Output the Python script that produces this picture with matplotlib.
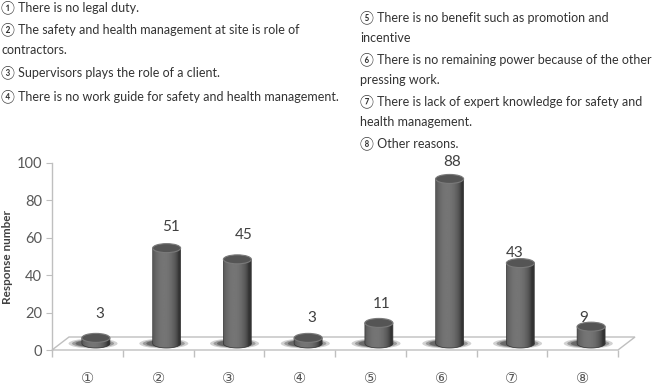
import numpy as np
import matplotlib
matplotlib.use("Agg")
import matplotlib.pyplot as plt
from matplotlib.patches import Ellipse, PathPatch, Polygon
from matplotlib.path import Path

plt.rcParams['font.family'] = ['Lato', 'DejaVu Sans']

# ---- data ----
categories = ['①', '②', '③', '④', '⑤', '⑥', '⑦', '⑧']
values = [3, 51, 45, 3, 11, 88, 43, 9]
y_ticks = [0, 20, 40, 60, 80, 100]
y_label = 'Response number'
notes_left = ['① There is no legal duty.',
              '② The safety and health management at site is role of',
              'contractors.',
              '③ Supervisors plays the role of a client.',
              '④ There is no work guide for safety and health management.']
notes_right = ['⑤ There is no benefit such as promotion and',
               'incentive',
               '⑥ There is no remaining power because of the other',
               'pressing work.',
               '⑦ There is lack of expert knowledge for safety and',
               'health management.',
               '⑧ Other reasons.']

# ---- layout / style ----
W, H = 659, 388
fig = plt.figure(figsize=(W / 100, H / 100), dpi=100)
ax_l, ax_r, ax_b, ax_t = 52, 618, 350, 163
ax = fig.add_axes([ax_l / W, (H - ax_b) / H, (ax_r - ax_l) / W, (ax_b - ax_t) / H])
ax.set_facecolor('none')
n = len(categories)
x = np.arange(n)
xpx = (ax_r - ax_l) / n            # px per x unit
ypx = (ax_b - ax_t) / 100.0        # px per y unit

depth_dx, depth_dy = 17 / xpx, 13 / ypx      # floor depth
bar_dx, bar_dy = depth_dx / 2, depth_dy / 2  # bars sit mid-floor
bar_w = 28 / xpx
ell_h = 9 / ypx
grey_line = '#bfbfbf'
txt_col = '#595959'

# floor
floor = Polygon([(-0.5, 0), (n - 0.5, 0), (n - 0.5 + depth_dx, depth_dy), (-0.5 + depth_dx, depth_dy)],
                closed=True, facecolor='white', edgecolor=grey_line, lw=1.0, zorder=1, clip_on=False)
ax.add_patch(floor)

# gradient for cylinder body
t = np.linspace(-1, 1, 64)
prof = 0.20 + 0.26 * np.clip(1 - ((t + 0.2) / 1.05) ** 2, 0, 1) ** 0.7
grad = np.tile(prof, (2, 1))

# label offsets (pixels) relative to bar top
label_dy = [24, 21, 24, 20, 19, 17, 10, 9]
label_dx = [4, 4, 6, 4, 3, 3, -6, -7]

for i, v in enumerate(values):
    cx = x[i] + bar_dx
    base = bar_dy
    top = base + v
    # shadow
    for sw, sh, a in [(1.75, 1.1, 0.20), (1.5, 0.9, 0.30), (1.25, 0.75, 0.40)]:
        ax.add_patch(Ellipse((cx - 0.04, base), bar_w * sw, ell_h * sh, facecolor='#1e1e1e',
                             edgecolor='none', alpha=a, zorder=2, clip_on=False))
    th = np.linspace(np.pi, 2 * np.pi, 40)
    xs = cx + bar_w / 2 * np.cos(th)
    ys = base + ell_h / 2 * np.sin(th)
    verts = list(zip(xs, ys)) + [(cx + bar_w / 2, top), (cx - bar_w / 2, top), (xs[0], ys[0])]
    codes = [Path.MOVETO] + [Path.LINETO] * (len(verts) - 2) + [Path.CLOSEPOLY]
    clip = PathPatch(Path(verts, codes), transform=ax.transData, facecolor='none')
    im = ax.imshow(grad, cmap='gray', vmin=0, vmax=1, aspect='auto', interpolation='bilinear',
                   extent=[cx - bar_w / 2, cx + bar_w / 2, base - ell_h / 2, top], zorder=3)
    im.set_clip_path(clip)
    ax.add_patch(PathPatch(Path(verts, codes), facecolor='none', edgecolor='#333333', lw=0.5, zorder=3.5))
    ax.add_patch(Ellipse((cx, top), bar_w, ell_h, facecolor='#555555', edgecolor='#7a7a7a',
                         lw=0.8, zorder=4))
    ax.annotate(str(v), (cx, top), xytext=(label_dx[i], label_dy[i]), textcoords='offset pixels',
                ha='center', va='center', fontsize=11, color='#404040', zorder=5)

ax.set_xlim(-0.5, n - 0.5)
ax.set_ylim(0, 100)

for s in ['top', 'right', 'bottom']:
    ax.spines[s].set_visible(False)
ax.spines['left'].set_color(grey_line)
ax.spines['left'].set_linewidth(1.0)

ax.set_yticks(y_ticks)
ax.set_yticklabels([str(v) for v in y_ticks], fontsize=10.5, color=txt_col)
ax.tick_params(axis='y', length=4, color=grey_line, pad=3)

ax.set_xticks(x)
ax.set_xticklabels(categories, fontsize=10.5, color=txt_col, family='DejaVu Sans')
ax.set_xticks(np.arange(n + 1) - 0.5, minor=True)
ax.tick_params(axis='x', which='major', length=0, pad=15)
ax.tick_params(axis='x', which='minor', length=5, color=grey_line, width=1.0)

ax.set_ylabel(y_label, fontsize=8.5, fontweight='bold', color='#404040', labelpad=3)

# explanatory notes
left_y = [7, 29, 50, 72, 96]
for s, yy in zip(notes_left, left_y):
    fig.text(1 / W, 1 - yy / H, s, fontsize=9, color='#333333', va='center', ha='left')
right_y = [17, 38, 59, 80, 101, 122, 143]
for s, yy in zip(notes_right, right_y):
    fig.text(360 / W, 1 - yy / H, s, fontsize=9, color='#333333', va='center', ha='left')

fig.savefig('out.png', dpi=100)
